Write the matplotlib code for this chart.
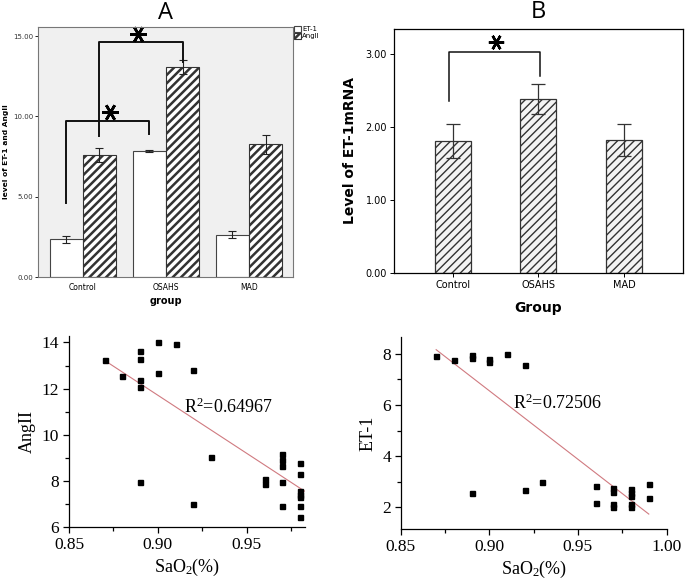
import numpy as np
import matplotlib
matplotlib.use("Agg")
import matplotlib.pyplot as plt

# ---------------- data ----------------
groups = ["Control", "OSAHS", "MAD"]
et1_mean = [2.36, 7.84, 2.63]
et1_err = [0.22, 0.07, 0.23]
ang_mean = [7.60, 13.07, 8.26]
ang_err = [0.46, 0.45, 0.58]

mrna_mean = [1.81, 2.38, 1.82]
mrna_err = [0.23, 0.21, 0.22]

sao2_c = [0.87, 0.88, 0.89, 0.89, 0.89, 0.89, 0.89, 0.90, 0.90, 0.91, 0.92, 0.92, 0.93,
          0.96, 0.96, 0.97, 0.97, 0.97, 0.97, 0.97, 0.98, 0.98, 0.98, 0.98, 0.98, 0.98, 0.98]
angii_c = [13.22, 12.56, 13.64, 13.28, 12.38, 12.09, 7.96, 14.0, 12.67, 13.93, 12.80, 7.0, 9.03,
           8.09, 7.86, 9.16, 8.92, 8.63, 7.96, 6.90, 8.77, 8.30, 7.55, 7.40, 7.29, 6.92, 6.45]
fit_c = (-50.4, 57.07)   # slope, intercept
fit_c_x = [0.87, 0.9824]
r2_c = "0.64967"

sao2_d = [0.87, 0.88, 0.89, 0.89, 0.89, 0.90, 0.90, 0.91, 0.92, 0.92, 0.93, 0.96, 0.96,
          0.97, 0.97, 0.97, 0.97, 0.98, 0.98, 0.98, 0.98, 0.98, 0.99, 0.99]
et1_d = [7.92, 7.77, 7.95, 7.83, 2.57, 7.82, 7.69, 8.0, 7.56, 2.68, 2.99, 2.83, 2.18,
         2.77, 2.61, 2.12, 2.0, 2.70, 2.57, 2.46, 2.12, 2.0, 2.90, 2.35]
fit_d = (-53.58, 54.78)
fit_d_x = [0.87, 0.99]
r2_d = "0.72506"

# significance brackets: (x_left, x_right, y_left, y_top, y_right, star_x, star_y)
brackets_a = [(-0.2, 0.8, 4.6, 9.7, 8.9, 0.33, 10.25),
              (0.2, 1.2, 8.8, 14.6, 13.4, 0.66, 15.1)]
brackets_b = [(-0.04, 1.02, 2.36, 3.02, 2.70, 0.51, 3.16)]

# ---------------- figure ----------------
fig = plt.figure(figsize=(6.85, 5.87), dpi=100)

def set_hlw(patches, lw):
    for p in patches:
        if hasattr(p, "set_hatch_linewidth"):
            p.set_hatch_linewidth(lw)

# ----- Panel A -----
axA = fig.add_axes([0.0555, 0.528, 0.3722, 0.426])
axA.set_facecolor("#f0f0f0")
x = np.arange(len(groups))
w = 0.4
plt.rcParams["hatch.linewidth"] = 0.3
b1 = axA.bar(x - w / 2, et1_mean, w, color="white", edgecolor="#444444", linewidth=0.8, label="ET-1")
plt.rcParams["hatch.linewidth"] = 1.8
plt.rcParams["hatch.color"] = "black"
b2 = axA.bar(x + w / 2, ang_mean, w, color="white", edgecolor="#333333", hatch="////",
             linewidth=0.8, label="AngII")
set_hlw(b2, 1.8)
axA.errorbar(x - w / 2, et1_mean, yerr=et1_err, fmt="none", ecolor="#222222", elinewidth=0.8,
             capsize=3, capthick=0.8)
axA.errorbar(x + w / 2, ang_mean, yerr=ang_err, fmt="none", ecolor="#222222", elinewidth=0.8,
             capsize=3, capthick=0.8)
for (xl, xr, yl, yt, yr, sx, sy) in brackets_a:
    axA.plot([xl, xl, xr, xr], [yl, yt, yt, yr], color="#111111", lw=1.4, clip_on=False)
    axA.plot([sx], [sy], marker=(6, 2, 90), markersize=12, mew=1.9, color="black", clip_on=False)
axA.set_xlim(-0.54, 2.53)
axA.set_ylim(0, 15.56)
axA.set_yticks([0, 5, 10, 15])
axA.set_yticklabels(["0.00", "5.00", "10.00", "15.00"], fontsize=5, color="#333333")
axA.set_xticks(x)
axA.set_xticklabels(groups, fontsize=5.5)
axA.tick_params(axis="x", length=0, pad=4)
axA.tick_params(axis="y", length=2.5, width=0.6, pad=1)
for s in axA.spines.values():
    s.set_color("#777777")
    s.set_linewidth(0.8)
axA.set_ylabel("level of ET-1 and AngII", fontsize=5.4, fontweight="bold")
axA.yaxis.set_label_coords(-0.112, 0.5)
axA.set_xlabel("group", fontsize=7, fontweight="bold", labelpad=3)
axA.set_title("A", fontsize=17, fontfamily="Open Sans", pad=6)
leg = axA.legend(loc="upper left", bbox_to_anchor=(1.0, 1.01), frameon=False, fontsize=5,
                 handlelength=0.9, handleheight=0.9, handletextpad=0.2, labelspacing=0.1,
                 borderaxespad=0.1, borderpad=0.1)

# ----- Panel B -----
axB = fig.add_axes([0.575, 0.535, 0.422, 0.4156])
plt.rcParams["hatch.linewidth"] = 1.0
plt.rcParams["hatch.color"] = "#555555"
b3 = axB.bar(x, mrna_mean, 0.42, color="#f4f4f4", edgecolor="#333333", hatch="////", linewidth=0.9)
set_hlw(b3, 1.0)
axB.errorbar(x, mrna_mean, yerr=mrna_err, fmt="none", ecolor="#333333", elinewidth=0.9,
             capsize=5, capthick=0.9)
for (xl, xr, yl, yt, yr, sx, sy) in brackets_b:
    axB.plot([xl, xl, xr, xr], [yl, yt, yt, yr], color="#111111", lw=1.1)
    axB.plot([sx], [sy], marker=(6, 2, 90), markersize=11, mew=1.8, color="black", clip_on=False)
axB.set_xlim(-0.686, 2.686)
axB.set_ylim(0, 3.34)
axB.set_yticks([0, 1, 2, 3])
axB.set_yticklabels(["0.00", "1.00", "2.00", "3.00"], fontsize=7)
axB.set_xticks(x)
axB.set_xticklabels(groups, fontsize=7)
axB.tick_params(length=3, width=0.7, pad=2)
for s in axB.spines.values():
    s.set_linewidth(0.9)
axB.set_ylabel("Level of ET-1mRNA", fontsize=10, fontweight="bold", labelpad=6)
axB.set_xlabel("Group", fontsize=10, fontweight="bold", labelpad=8)
axB.set_title("B", fontsize=17, fontfamily="Open Sans", pad=8)

serif = "Liberation Serif"

def scatter_panel(ax, xs, ys, fit, fit_x, r2, r2pos, ylabel, xlim, ylim, xt, xminor, yt, yminor):
    ax.plot(xs, ys, "s", color="black", markersize=3.6, zorder=3)
    fx = np.array(fit_x)
    ax.plot(fx, fit[0] * fx + fit[1], color="#d07a80", lw=0.8, zorder=2)
    ax.text(r2pos[0], r2pos[1], "R$^2$=" + r2, fontsize=13, family=serif, va="center", ha="left")
    ax.set_xlim(*xlim)
    ax.set_ylim(*ylim)
    ax.set_xticks(xt)
    ax.set_xticklabels(["%.2f" % v for v in xt])
    ax.set_xticks(xminor, minor=True)
    ax.set_yticks(yt)
    ax.set_yticks(yminor, minor=True)
    for lab in ax.get_xticklabels() + ax.get_yticklabels():
        lab.set_fontfamily(serif)
        lab.set_fontsize(12.5)
    ax.tick_params(which="major", length=4, width=0.9, direction="out", pad=3)
    ax.tick_params(which="minor", length=3, width=0.9, direction="out")
    for side in ["top", "right"]:
        ax.spines[side].set_visible(False)
    for side in ["left", "bottom"]:
        ax.spines[side].set_linewidth(0.9)
    ax.set_ylabel(ylabel, fontsize=13, family=serif, labelpad=4)
    ax.set_xlabel("SaO$_2$(%)", fontsize=13, family=serif, labelpad=3)

plt.rcParams["mathtext.fontset"] = "custom"
plt.rcParams["mathtext.rm"] = serif
plt.rcParams["mathtext.it"] = serif

axC = fig.add_axes([0.1007, 0.1022, 0.3443, 0.3254])
scatter_panel(axC, sao2_c, angii_c, fit_c, fit_c_x, r2_c, (0.9144, 11.17), "AngII",
              (0.85, 0.9826), (6, 14.28), [0.85, 0.90, 0.95], [0.875, 0.925, 0.975],
              [6, 8, 10, 12, 14], [7, 9, 11, 13])

axD = fig.add_axes([0.585, 0.0983, 0.388, 0.3271])
scatter_panel(axD, sao2_d, et1_d, fit_d, fit_d_x, r2_d, (0.9132, 6.07), "ET-1",
              (0.85, 1.0), (1.14, 8.65), [0.85, 0.90, 0.95, 1.00], [0.875, 0.925, 0.975],
              [2, 4, 6, 8], [3, 5, 7])

fig.savefig("out.png", dpi=100)
